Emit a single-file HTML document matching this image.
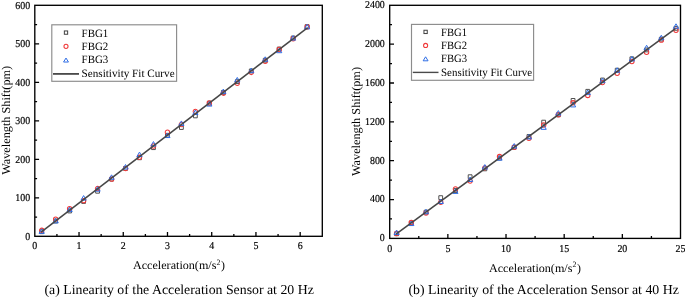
<!DOCTYPE html>
<html><head><meta charset="utf-8"><style>
html,body{margin:0;padding:0;background:#fff;width:685px;height:298px;overflow:hidden}
svg{display:block;font-family:"Liberation Serif",serif;will-change:transform}
svg text{fill:#000;text-rendering:geometricPrecision}
svg text.tl{stroke:#000;stroke-width:0.18px}
</style></head><body>
<svg width="685" height="298" viewBox="0 0 685 298">
<rect width="685" height="298" fill="#fff"/>
<path d="M56.92 236.3V234M79.03 236.3V232M101.15 236.3V234M123.26 236.3V232M145.38 236.3V234M167.49 236.3V232M189.61 236.3V234M211.72 236.3V232M233.84 236.3V234M255.95 236.3V232M278.07 236.3V234M300.18 236.3V232M34.8 217.05H37.1M34.8 197.8H39.1M34.8 178.55H37.1M34.8 159.3H39.1M34.8 140.05H37.1M34.8 120.8H39.1M34.8 101.55H37.1M34.8 82.3H39.1M34.8 63.05H37.1M34.8 43.8H39.1M34.8 24.55H37.1" stroke="#000" stroke-width="1.3" fill="none"/>
<rect x="34.8" y="5.3" width="287.5" height="231" fill="none" stroke="#000" stroke-width="1.35"/>
<text x="30.1" y="239.65" font-size="10.6" text-anchor="end" textLength="4.95" lengthAdjust="spacingAndGlyphs" class="tl">0</text>
<text x="30.1" y="201.15" font-size="10.6" text-anchor="end" textLength="14.85" lengthAdjust="spacingAndGlyphs" class="tl">100</text>
<text x="30.1" y="162.65" font-size="10.6" text-anchor="end" textLength="14.85" lengthAdjust="spacingAndGlyphs" class="tl">200</text>
<text x="30.1" y="124.15" font-size="10.6" text-anchor="end" textLength="14.85" lengthAdjust="spacingAndGlyphs" class="tl">300</text>
<text x="30.1" y="85.65" font-size="10.6" text-anchor="end" textLength="14.85" lengthAdjust="spacingAndGlyphs" class="tl">400</text>
<text x="30.1" y="47.15" font-size="10.6" text-anchor="end" textLength="14.85" lengthAdjust="spacingAndGlyphs" class="tl">500</text>
<text x="30.1" y="8.65" font-size="10.6" text-anchor="end" textLength="14.85" lengthAdjust="spacingAndGlyphs" class="tl">600</text>
<text x="34.8" y="249" font-size="10.6" text-anchor="middle" textLength="4.95" lengthAdjust="spacingAndGlyphs" class="tl">0</text>
<text x="79.03" y="249" font-size="10.6" text-anchor="middle" textLength="4.95" lengthAdjust="spacingAndGlyphs" class="tl">1</text>
<text x="123.26" y="249" font-size="10.6" text-anchor="middle" textLength="4.95" lengthAdjust="spacingAndGlyphs" class="tl">2</text>
<text x="167.49" y="249" font-size="10.6" text-anchor="middle" textLength="4.95" lengthAdjust="spacingAndGlyphs" class="tl">3</text>
<text x="211.72" y="249" font-size="10.6" text-anchor="middle" textLength="4.95" lengthAdjust="spacingAndGlyphs" class="tl">4</text>
<text x="255.95" y="249" font-size="10.6" text-anchor="middle" textLength="4.95" lengthAdjust="spacingAndGlyphs" class="tl">5</text>
<text x="300.18" y="249" font-size="10.6" text-anchor="middle" textLength="4.95" lengthAdjust="spacingAndGlyphs" class="tl">6</text>
<text transform="translate(10 120.3) rotate(-90)" font-size="12" text-anchor="middle" textLength="109" lengthAdjust="spacingAndGlyphs">Wavelength Shift(pm)</text>
<text x="133" y="269.2" font-size="11.8" textLength="83.4" lengthAdjust="spacingAndGlyphs">Acceleration(m/s</text>
<text x="216.5" y="264.8" font-size="8.2" textLength="3.9" lengthAdjust="spacingAndGlyphs">2</text>
<text x="221.1" y="269.2" font-size="11.8">)</text>
<text x="44.5" y="293.9" font-size="13.6" textLength="269.3" lengthAdjust="spacingAndGlyphs">(a) Linearity of the Acceleration Sensor at 20 Hz</text>
<rect x="51.8" y="24.8" width="124.8" height="56.5" fill="#fff" stroke="#8c8c8c" stroke-width="1.15"/>
<rect x="64.35" y="30.95" width="3.3" height="3.3" fill="none" stroke="#404040" stroke-width="1"/>
<circle cx="66" cy="46.37" r="2.05" fill="none" stroke="#f03a3a" stroke-width="1.05"/>
<path d="M66 58.04L68.45 62.04H63.55Z" fill="none" stroke="#2f6ee6" stroke-width="1"/>
<path d="M53 73.91H79" stroke="#4a4a4a" stroke-width="1.8"/>
<text x="81.6" y="36.6" font-size="11.2" textLength="26.6" lengthAdjust="spacingAndGlyphs">FBG1</text>
<text x="81.6" y="49.9" font-size="11.2" textLength="26.6" lengthAdjust="spacingAndGlyphs">FBG2</text>
<text x="81.6" y="63.2" font-size="11.2" textLength="26.6" lengthAdjust="spacingAndGlyphs">FBG3</text>
<text x="81.6" y="76.5" font-size="11.2" textLength="93" lengthAdjust="spacingAndGlyphs">Sensitivity Fit Curve</text>
<path d="M418.78 238.4V236.1M447.86 238.4V234.1M476.94 238.4V236.1M506.02 238.4V234.1M535.1 238.4V236.1M564.18 238.4V234.1M593.26 238.4V236.1M622.34 238.4V234.1M651.42 238.4V236.1M389.7 218.97H392M389.7 199.55H394M389.7 180.12H392M389.7 160.7H394M389.7 141.28H392M389.7 121.85H394M389.7 102.43H392M389.7 83H394M389.7 63.58H392M389.7 44.15H394M389.7 24.72H392" stroke="#000" stroke-width="1.3" fill="none"/>
<rect x="389.7" y="5.3" width="290.8" height="233.1" fill="none" stroke="#000" stroke-width="1.35"/>
<text x="384.8" y="241.25" font-size="10.6" text-anchor="end" textLength="4.95" lengthAdjust="spacingAndGlyphs" class="tl">0</text>
<text x="384.8" y="202.4" font-size="10.6" text-anchor="end" textLength="14.85" lengthAdjust="spacingAndGlyphs" class="tl">400</text>
<text x="384.8" y="163.55" font-size="10.6" text-anchor="end" textLength="14.85" lengthAdjust="spacingAndGlyphs" class="tl">800</text>
<text x="384.8" y="124.7" font-size="10.6" text-anchor="end" textLength="19.8" lengthAdjust="spacingAndGlyphs" class="tl">1200</text>
<text x="384.8" y="85.85" font-size="10.6" text-anchor="end" textLength="19.8" lengthAdjust="spacingAndGlyphs" class="tl">1600</text>
<text x="384.8" y="47" font-size="10.6" text-anchor="end" textLength="19.8" lengthAdjust="spacingAndGlyphs" class="tl">2000</text>
<text x="384.8" y="8.15" font-size="10.6" text-anchor="end" textLength="19.8" lengthAdjust="spacingAndGlyphs" class="tl">2400</text>
<text x="389.7" y="252" font-size="10.6" text-anchor="middle" textLength="4.95" lengthAdjust="spacingAndGlyphs" class="tl">0</text>
<text x="447.86" y="252" font-size="10.6" text-anchor="middle" textLength="4.95" lengthAdjust="spacingAndGlyphs" class="tl">5</text>
<text x="506.02" y="252" font-size="10.6" text-anchor="middle" textLength="9.9" lengthAdjust="spacingAndGlyphs" class="tl">10</text>
<text x="564.18" y="252" font-size="10.6" text-anchor="middle" textLength="9.9" lengthAdjust="spacingAndGlyphs" class="tl">15</text>
<text x="622.34" y="252" font-size="10.6" text-anchor="middle" textLength="9.9" lengthAdjust="spacingAndGlyphs" class="tl">20</text>
<text x="680.5" y="252" font-size="10.6" text-anchor="middle" textLength="9.9" lengthAdjust="spacingAndGlyphs" class="tl">25</text>
<text transform="translate(360 121.5) rotate(-90)" font-size="12" text-anchor="middle" textLength="109" lengthAdjust="spacingAndGlyphs">Wavelength Shift(pm)</text>
<text x="489" y="271.8" font-size="11.8" textLength="83.4" lengthAdjust="spacingAndGlyphs">Acceleration(m/s</text>
<text x="572.5" y="267.4" font-size="8.2" textLength="3.9" lengthAdjust="spacingAndGlyphs">2</text>
<text x="577.1" y="271.8" font-size="11.8">)</text>
<text x="408.5" y="294.2" font-size="13.6" textLength="270.3" lengthAdjust="spacingAndGlyphs">(b) Linearity of the Acceleration Sensor at 40 Hz</text>
<rect x="411.5" y="24.4" width="122.1" height="55.9" fill="#fff" stroke="#8c8c8c" stroke-width="1.15"/>
<rect x="423.95" y="30.25" width="3.3" height="3.3" fill="none" stroke="#404040" stroke-width="1"/>
<circle cx="425.6" cy="45.4" r="2.05" fill="none" stroke="#f03a3a" stroke-width="1.05"/>
<path d="M425.6 56.8L428.05 60.8H423.15Z" fill="none" stroke="#2f6ee6" stroke-width="1"/>
<path d="M412.8 72.4H438.5" stroke="#4a4a4a" stroke-width="1.4"/>
<text x="441" y="35.8" font-size="11.2" textLength="26" lengthAdjust="spacingAndGlyphs">FBG1</text>
<text x="441" y="49.07" font-size="11.2" textLength="26" lengthAdjust="spacingAndGlyphs">FBG2</text>
<text x="441" y="62.34" font-size="11.2" textLength="26" lengthAdjust="spacingAndGlyphs">FBG3</text>
<text x="441" y="75.61" font-size="11.2" textLength="91" lengthAdjust="spacingAndGlyphs">Sensitivity Fit Curve</text>
<path d="M39.8 229.84h3.8v3.8h-3.8ZM53.77 219.12h3.8v3.8h-3.8ZM67.74 209.1h3.8v3.8h-3.8ZM81.71 199.58h3.8v3.8h-3.8ZM95.68 189.36h3.8v3.8h-3.8ZM109.65 177.24h3.8v3.8h-3.8ZM123.62 166.52h3.8v3.8h-3.8ZM137.59 155.9h3.8v3.8h-3.8ZM151.56 145.77h3.8v3.8h-3.8ZM165.53 133.35h3.8v3.8h-3.8ZM179.5 125.63h3.8v3.8h-3.8ZM193.47 114.01h3.8v3.8h-3.8ZM207.44 101.19h3.8v3.8h-3.8ZM221.41 90.47h3.8v3.8h-3.8ZM235.38 79.75h3.8v3.8h-3.8ZM249.35 69.03h3.8v3.8h-3.8ZM263.32 58.31h3.8v3.8h-3.8ZM277.29 47.09h3.8v3.8h-3.8ZM291.26 36.07h3.8v3.8h-3.8ZM305.23 24.65h3.8v3.8h-3.8Z" fill="none" stroke="#505050" stroke-width="1"/>
<path d="M39.5 230.34a2.2 2.2 0 1 0 4.4 0a2.2 2.2 0 1 0 -4.4 0M53.47 219.12a2.2 2.2 0 1 0 4.4 0a2.2 2.2 0 1 0 -4.4 0M67.44 208.8a2.2 2.2 0 1 0 4.4 0a2.2 2.2 0 1 0 -4.4 0M81.41 200.68a2.2 2.2 0 1 0 4.4 0a2.2 2.2 0 1 0 -4.4 0M95.38 188.56a2.2 2.2 0 1 0 4.4 0a2.2 2.2 0 1 0 -4.4 0M109.35 179.14a2.2 2.2 0 1 0 4.4 0a2.2 2.2 0 1 0 -4.4 0M123.32 168.52a2.2 2.2 0 1 0 4.4 0a2.2 2.2 0 1 0 -4.4 0M137.29 157.2a2.2 2.2 0 1 0 4.4 0a2.2 2.2 0 1 0 -4.4 0M151.26 145.97a2.2 2.2 0 1 0 4.4 0a2.2 2.2 0 1 0 -4.4 0M165.23 132.25a2.2 2.2 0 1 0 4.4 0a2.2 2.2 0 1 0 -4.4 0M179.2 124.53a2.2 2.2 0 1 0 4.4 0a2.2 2.2 0 1 0 -4.4 0M193.17 111.41a2.2 2.2 0 1 0 4.4 0a2.2 2.2 0 1 0 -4.4 0M207.14 103.09a2.2 2.2 0 1 0 4.4 0a2.2 2.2 0 1 0 -4.4 0M221.11 93.17a2.2 2.2 0 1 0 4.4 0a2.2 2.2 0 1 0 -4.4 0M235.08 83.35a2.2 2.2 0 1 0 4.4 0a2.2 2.2 0 1 0 -4.4 0M249.05 72.43a2.2 2.2 0 1 0 4.4 0a2.2 2.2 0 1 0 -4.4 0M263.02 61.21a2.2 2.2 0 1 0 4.4 0a2.2 2.2 0 1 0 -4.4 0M276.99 49.49a2.2 2.2 0 1 0 4.4 0a2.2 2.2 0 1 0 -4.4 0M290.96 38.77a2.2 2.2 0 1 0 4.4 0a2.2 2.2 0 1 0 -4.4 0M304.93 27.05a2.2 2.2 0 1 0 4.4 0a2.2 2.2 0 1 0 -4.4 0" fill="none" stroke="#f03a3a" stroke-width="1.05"/>
<path d="M41.7 228.84L44.3 233.34H39.1ZM55.67 218.42L58.27 222.92H53.07ZM69.64 207.1L72.24 211.6H67.04ZM83.61 195.58L86.21 200.08H81.01ZM97.58 186.66L100.18 191.16H94.98ZM111.55 174.84L114.15 179.34H108.95ZM125.52 164.52L128.12 169.02H122.92ZM139.49 152.1L142.09 156.6H136.89ZM153.46 141.57L156.06 146.07H150.86ZM167.43 133.05L170.03 137.55H164.83ZM181.4 120.93L184 125.43H178.8ZM195.37 110.01L197.97 114.51H192.77ZM209.34 101.59L211.94 106.09H206.74ZM223.31 89.07L225.91 93.57H220.71ZM237.28 77.45L239.88 81.95H234.68ZM251.25 68.13L253.85 72.63H248.65ZM265.22 56.81L267.82 61.31H262.62ZM279.19 48.19L281.79 52.69H276.59ZM293.16 35.57L295.76 40.07H290.56ZM307.13 24.35L309.73 28.85H304.53Z" fill="none" stroke="#2f6ee6" stroke-width="1"/>
<path d="M41.1 232.2L307.7 27.6" stroke="#474747" stroke-width="1.55" fill="none"/>
<path d="M394.7 231.86h3.8v3.8h-3.8ZM409.41 221.05h3.8v3.8h-3.8ZM424.11 210.23h3.8v3.8h-3.8ZM438.82 195.72h3.8v3.8h-3.8ZM453.52 188.61h3.8v3.8h-3.8ZM468.23 174.8h3.8v3.8h-3.8ZM482.93 166.98h3.8v3.8h-3.8ZM497.64 156.17h3.8v3.8h-3.8ZM512.34 145.36h3.8v3.8h-3.8ZM527.05 134.55h3.8v3.8h-3.8ZM541.75 120.23h3.8v3.8h-3.8ZM556.46 112.92h3.8v3.8h-3.8ZM571.16 98.51h3.8v3.8h-3.8ZM585.87 89.4h3.8v3.8h-3.8ZM600.57 78.08h3.8v3.8h-3.8ZM615.27 68.27h3.8v3.8h-3.8ZM629.98 56.86h3.8v3.8h-3.8ZM644.69 48.04h3.8v3.8h-3.8ZM659.39 37.23h3.8v3.8h-3.8ZM674.1 26.42h3.8v3.8h-3.8Z" fill="none" stroke="#505050" stroke-width="1"/>
<path d="M394.4 233.46a2.2 2.2 0 1 0 4.4 0a2.2 2.2 0 1 0 -4.4 0M409.11 222.55a2.2 2.2 0 1 0 4.4 0a2.2 2.2 0 1 0 -4.4 0M423.81 213.03a2.2 2.2 0 1 0 4.4 0a2.2 2.2 0 1 0 -4.4 0M438.52 202.22a2.2 2.2 0 1 0 4.4 0a2.2 2.2 0 1 0 -4.4 0M453.22 189.01a2.2 2.2 0 1 0 4.4 0a2.2 2.2 0 1 0 -4.4 0M467.93 181a2.2 2.2 0 1 0 4.4 0a2.2 2.2 0 1 0 -4.4 0M482.63 167.88a2.2 2.2 0 1 0 4.4 0a2.2 2.2 0 1 0 -4.4 0M497.34 156.57a2.2 2.2 0 1 0 4.4 0a2.2 2.2 0 1 0 -4.4 0M512.04 147.26a2.2 2.2 0 1 0 4.4 0a2.2 2.2 0 1 0 -4.4 0M526.75 138.25a2.2 2.2 0 1 0 4.4 0a2.2 2.2 0 1 0 -4.4 0M541.45 125.03a2.2 2.2 0 1 0 4.4 0a2.2 2.2 0 1 0 -4.4 0M556.15 114.82a2.2 2.2 0 1 0 4.4 0a2.2 2.2 0 1 0 -4.4 0M570.86 102.81a2.2 2.2 0 1 0 4.4 0a2.2 2.2 0 1 0 -4.4 0M585.56 95.4a2.2 2.2 0 1 0 4.4 0a2.2 2.2 0 1 0 -4.4 0M600.27 82.58a2.2 2.2 0 1 0 4.4 0a2.2 2.2 0 1 0 -4.4 0M614.97 73.37a2.2 2.2 0 1 0 4.4 0a2.2 2.2 0 1 0 -4.4 0M629.68 61.46a2.2 2.2 0 1 0 4.4 0a2.2 2.2 0 1 0 -4.4 0M644.38 52.24a2.2 2.2 0 1 0 4.4 0a2.2 2.2 0 1 0 -4.4 0M659.09 40.13a2.2 2.2 0 1 0 4.4 0a2.2 2.2 0 1 0 -4.4 0M673.79 30.32a2.2 2.2 0 1 0 4.4 0a2.2 2.2 0 1 0 -4.4 0" fill="none" stroke="#f03a3a" stroke-width="1.05"/>
<path d="M396.6 230.06L399.2 234.56H394ZM411.31 221.05L413.91 225.55H408.7ZM426.01 209.23L428.61 213.73H423.41ZM440.72 199.02L443.32 203.52H438.12ZM455.42 188.91L458.02 193.41H452.82ZM470.12 177L472.73 181.5H467.52ZM484.83 164.58L487.43 169.08H482.23ZM499.54 155.67L502.14 160.17H496.94ZM514.24 143.56L516.84 148.06H511.64ZM528.95 134.45L531.55 138.95H526.35ZM543.65 124.83L546.25 129.33H541.05ZM558.36 110.62L560.96 115.12H555.75ZM573.06 102.41L575.66 106.91H570.46ZM587.76 90.1L590.37 94.6H585.16ZM602.47 78.18L605.07 82.68H599.87ZM617.17 67.77L619.77 72.27H614.57ZM631.88 56.46L634.48 60.96H629.28ZM646.59 45.24L649.19 49.74H643.99ZM661.29 35.23L663.89 39.73H658.69ZM676 23.82L678.6 28.32H673.39Z" fill="none" stroke="#2f6ee6" stroke-width="1"/>
<path d="M396 234.2L675.4 28.6" stroke="#474747" stroke-width="1.55" fill="none"/>
</svg>
</body></html>
